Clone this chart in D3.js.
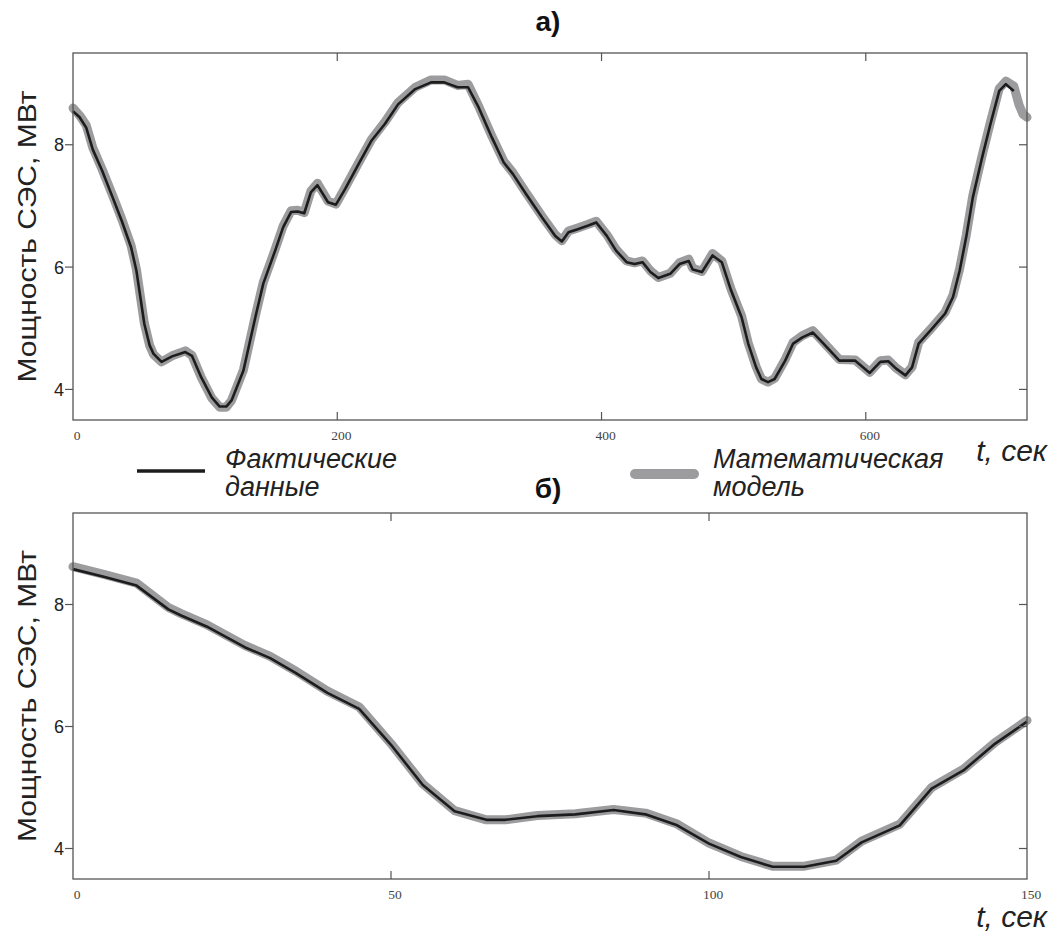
<!DOCTYPE html>
<meta charset="utf-8">
<style>
body {
  margin: 0;
  background: #fff;
}
svg text {
  font-family: "Liberation Sans", Arial, sans-serif;
}
.frame {
  fill: none;
  stroke: #555;
  stroke-width: 1.3;
}
.tick-line {
  stroke: #555;
  stroke-width: 1.2;
}
.model {
  fill: none;
  stroke: #9c9c9e;
  stroke-width: 9;
  stroke-linejoin: round;
  stroke-linecap: round;
}
.actual {
  fill: none;
  stroke: #1c1c1c;
  stroke-width: 2.6;
  stroke-linejoin: round;
}
.xlab {
  font-family: "Liberation Serif", "Times New Roman", serif;
  font-size: 13.5px;
  fill: #444;
}
.ylab {
  font-size: 18px;
  fill: #222;
}
.axis-title {
  font-size: 26px;
  fill: #222;
}
.unit {
  font-size: 30px;
  font-style: italic;
  fill: #222;
}
.legend {
  font-size: 27px;
  font-style: italic;
  fill: #222;
}
.panel-title {
  font-size: 28px;
  font-weight: bold;
  fill: #111;
}
</style>
<body>
<script src="https://cdn.jsdelivr.net/npm/d3@7"></script>
<script>

// panel a) - whole record, t in seconds, power in MW
var topActualT = [0, 5, 10, 15, 22, 30, 37, 44, 48, 54, 58, 61, 67, 75, 85, 90, 97, 105, 111, 116,
  120, 129, 138, 144, 153, 159, 165, 170, 175, 180, 185, 193, 199, 206, 216, 226, 236, 246, 259, 271,
  281, 291, 299, 307, 317, 326, 333, 343, 355, 365, 370, 375, 382, 390, 396, 404, 411, 419, 425, 431,
  437, 443, 452, 459, 466, 469, 476, 484, 491, 498, 506, 511, 517, 521, 526, 531, 539, 545, 552, 560,
  568, 580, 592, 603, 611, 617, 623, 630, 635, 640, 650, 660, 666, 671, 676, 681, 688, 694, 701, 706, 712];
var topActual = [8.55, 8.45, 8.28, 7.92, 7.58, 7.14, 6.75, 6.32, 5.94, 5.07, 4.72, 4.58, 4.45, 4.54, 4.61, 4.55, 4.20, 3.87, 3.72, 3.72,
  3.82, 4.31, 5.18, 5.73, 6.27, 6.65, 6.90, 6.91, 6.88, 7.22, 7.34, 7.06, 7.02, 7.28, 7.68, 8.07, 8.34, 8.66, 8.91, 9.02,
  9.02, 8.94, 8.94, 8.61, 8.12, 7.71, 7.52, 7.19, 6.81, 6.51, 6.42, 6.57, 6.62, 6.68, 6.73, 6.51, 6.27, 6.08, 6.05, 6.08,
  5.92, 5.82, 5.89, 6.05, 6.10, 5.96, 5.92, 6.19, 6.08, 5.62, 5.18, 4.75, 4.36, 4.17, 4.12, 4.17, 4.47, 4.75, 4.85, 4.93,
  4.75, 4.47, 4.47, 4.27, 4.45, 4.46, 4.34, 4.23, 4.36, 4.75, 4.99, 5.24, 5.51, 5.94, 6.49, 7.14, 7.79, 8.31, 8.88, 8.99, 8.88];

var topModelT = [0, 5, 10, 15, 22, 30, 37, 44, 48, 54, 58, 61, 67, 75, 85, 90, 97, 105, 111, 116,
  120, 129, 138, 144, 153, 159, 165, 170, 175, 180, 185, 193, 199, 206, 216, 226, 236, 246, 259, 271,
  281, 291, 299, 307, 317, 326, 333, 343, 355, 365, 370, 375, 382, 390, 396, 404, 411, 419, 425, 431,
  437, 443, 452, 459, 466, 469, 476, 484, 491, 498, 506, 511, 517, 521, 526, 531, 539, 545, 552, 560,
  568, 580, 592, 603, 611, 617, 623, 630, 635, 640, 650, 660, 666, 671, 676, 681, 688, 694, 701, 706, 712, 716, 719, 722];
var topModel = [8.60, 8.48, 8.32, 7.95, 7.60, 7.17, 6.78, 6.35, 5.96, 5.08, 4.72, 4.57, 4.45, 4.55, 4.63, 4.56, 4.20, 3.86, 3.71, 3.71,
  3.82, 4.32, 5.20, 5.75, 6.29, 6.67, 6.92, 6.93, 6.89, 7.24, 7.37, 7.08, 7.03, 7.30, 7.70, 8.09, 8.37, 8.69, 8.94, 9.06,
  9.06, 8.97, 8.99, 8.63, 8.14, 7.73, 7.54, 7.21, 6.83, 6.53, 6.43, 6.59, 6.64, 6.70, 6.75, 6.53, 6.29, 6.10, 6.07, 6.10,
  5.94, 5.83, 5.90, 6.07, 6.13, 5.98, 5.93, 6.22, 6.10, 5.64, 5.20, 4.76, 4.37, 4.17, 4.12, 4.18, 4.49, 4.77, 4.88, 4.96,
  4.77, 4.49, 4.48, 4.28, 4.47, 4.48, 4.35, 4.24, 4.37, 4.77, 5.01, 5.26, 5.54, 5.97, 6.52, 7.17, 7.82, 8.34, 8.92, 9.04, 8.96, 8.65, 8.50, 8.45];

// panel б) - first 150 s
var botActualT = [0, 5, 10, 15, 17, 21, 27, 31, 35, 40, 45, 50, 55, 60, 65, 68, 73, 79, 85, 90,
  95, 100, 105, 110, 115, 120, 124, 130, 135, 140, 145, 150];
var botActual = [8.58, 8.45, 8.31, 7.92, 7.82, 7.64, 7.30, 7.12, 6.88, 6.55, 6.29, 5.70, 5.04, 4.61, 4.47, 4.47, 4.53, 4.56, 4.63, 4.56,
  4.38, 4.08, 3.86, 3.70, 3.70, 3.80, 4.10, 4.38, 4.98, 5.28, 5.72, 6.08];
var botModel = [8.62, 8.49, 8.35, 7.95, 7.85, 7.67, 7.33, 7.15, 6.91, 6.58, 6.32, 5.72, 5.06, 4.62, 4.47, 4.47, 4.54, 4.57, 4.64, 4.58,
  4.40, 4.09, 3.87, 3.71, 3.71, 3.81, 4.12, 4.40, 5.00, 5.30, 5.74, 6.10];

var xTicksTop = [0, 200, 400, 600];
var xTicksBot = [0, 50, 100, 150];
var yTicks = [4, 6, 8];

var yTitle = "Мощность СЭС, МВт";
var unitLabel = "t, сек";
var legendNames = [["Фактические", "данные"], ["Математическая", "модель"]];

var svg = d3.select("body").append("svg")
    .attr("width", 1052)
    .attr("height", 933);

function drawPanel(p) {
  var x = d3.scaleLinear().domain(p.xDomain).range([73, 1027]);
  var y = d3.scaleLinear().domain([3.5, 9.5]).range([p.bottom, p.top]);
  var g = svg.append("g");

  var line = d3.line()
    .x(function(d) { return x(d[0]); })
    .y(function(d) { return y(d[1]); });

  g.append("path")
    .attr("class", "model")
    .attr("d", line(d3.zip(p.modelT, p.model)));
  g.append("path")
    .attr("class", "actual")
    .attr("d", line(d3.zip(p.actualT, p.actual)));

  g.append("rect")
    .attr("class", "frame")
    .attr("x", 73)
    .attr("y", p.top)
    .attr("width", 1027 - 73)
    .attr("height", p.bottom - p.top);

  // x ticks point inward, top and bottom
  p.xTicks.forEach(function(t) {
    if (t === p.xDomain[0] || t === p.xDomain[1]) return;
    g.append("line").attr("class", "tick-line")
      .attr("x1", x(t)).attr("x2", x(t))
      .attr("y1", p.bottom).attr("y2", p.bottom - 8);
    g.append("line").attr("class", "tick-line")
      .attr("x1", x(t)).attr("x2", x(t))
      .attr("y1", p.top).attr("y2", p.top + 8);
  });
  g.selectAll(".xlab")
      .data(p.xTicks)
    .enter().append("text")
      .attr("class", "xlab")
      .attr("x", function(d) { return x(d) + 4; })
      .attr("y", p.bottom + 20)
      .attr("text-anchor", "middle")
      .text(function(d) { return d; });

  // y ticks: left outside, right inside
  yTicks.forEach(function(v) {
    g.append("line").attr("class", "tick-line")
      .attr("x1", 65).attr("x2", 73)
      .attr("y1", y(v)).attr("y2", y(v));
    g.append("line").attr("class", "tick-line")
      .attr("x1", 1019).attr("x2", 1027)
      .attr("y1", y(v)).attr("y2", y(v));
  });
  g.selectAll(".ylab")
      .data(yTicks)
    .enter().append("text")
      .attr("class", "ylab")
      .attr("x", 64)
      .attr("y", function(d) { return y(d) + 6.5; })
      .attr("text-anchor", "end")
      .text(function(d) { return d; });

  g.append("text")
    .attr("class", "axis-title")
    .attr("transform", "translate(" + 36 + "," + ((p.top + p.bottom) / 2) + ") rotate(-90)")
    .attr("text-anchor", "middle")
    .attr("textLength", 292)
    .attr("lengthAdjust", "spacingAndGlyphs")
    .text(yTitle);

  g.append("text")
    .attr("class", "panel-title")
    .attr("x", 548)
    .attr("y", p.titleY)
    .attr("text-anchor", "middle")
    .text(p.title);

  g.append("text")
    .attr("class", "unit")
    .attr("x", 1047)
    .attr("y", p.unitY)
    .attr("text-anchor", "end")
    .text(unitLabel);
}

drawPanel({
  top: 53, bottom: 420, xDomain: [0, 722], xTicks: xTicksTop,
  actualT: topActualT, actual: topActual, modelT: topModelT, model: topModel,
  title: "а)", titleY: 31, unitY: 461
});

drawPanel({
  top: 513, bottom: 879, xDomain: [0, 150], xTicks: xTicksBot,
  actualT: botActualT, actual: botActual, modelT: botActualT, model: botModel,
  title: "б)", titleY: 498, unitY: 927
});

// legend between panels
var legend = svg.append("g");
legend.append("line")
  .attr("x1", 137).attr("x2", 205)
  .attr("y1", 471).attr("y2", 471)
  .attr("stroke", "#1c1c1c")
  .attr("stroke-width", 3.5);
legend.append("line")
  .attr("x1", 635).attr("x2", 694)
  .attr("y1", 474).attr("y2", 474)
  .attr("stroke", "#9c9c9e")
  .attr("stroke-width", 10)
  .attr("stroke-linecap", "round");

[[225, legendNames[0]], [713, legendNames[1]]].forEach(function(item) {
  item[1].forEach(function(s, i) {
    legend.append("text")
      .attr("class", "legend")
      .attr("x", item[0])
      .attr("y", 468 + i * 28)
      .text(s);
  });
});

</script>
